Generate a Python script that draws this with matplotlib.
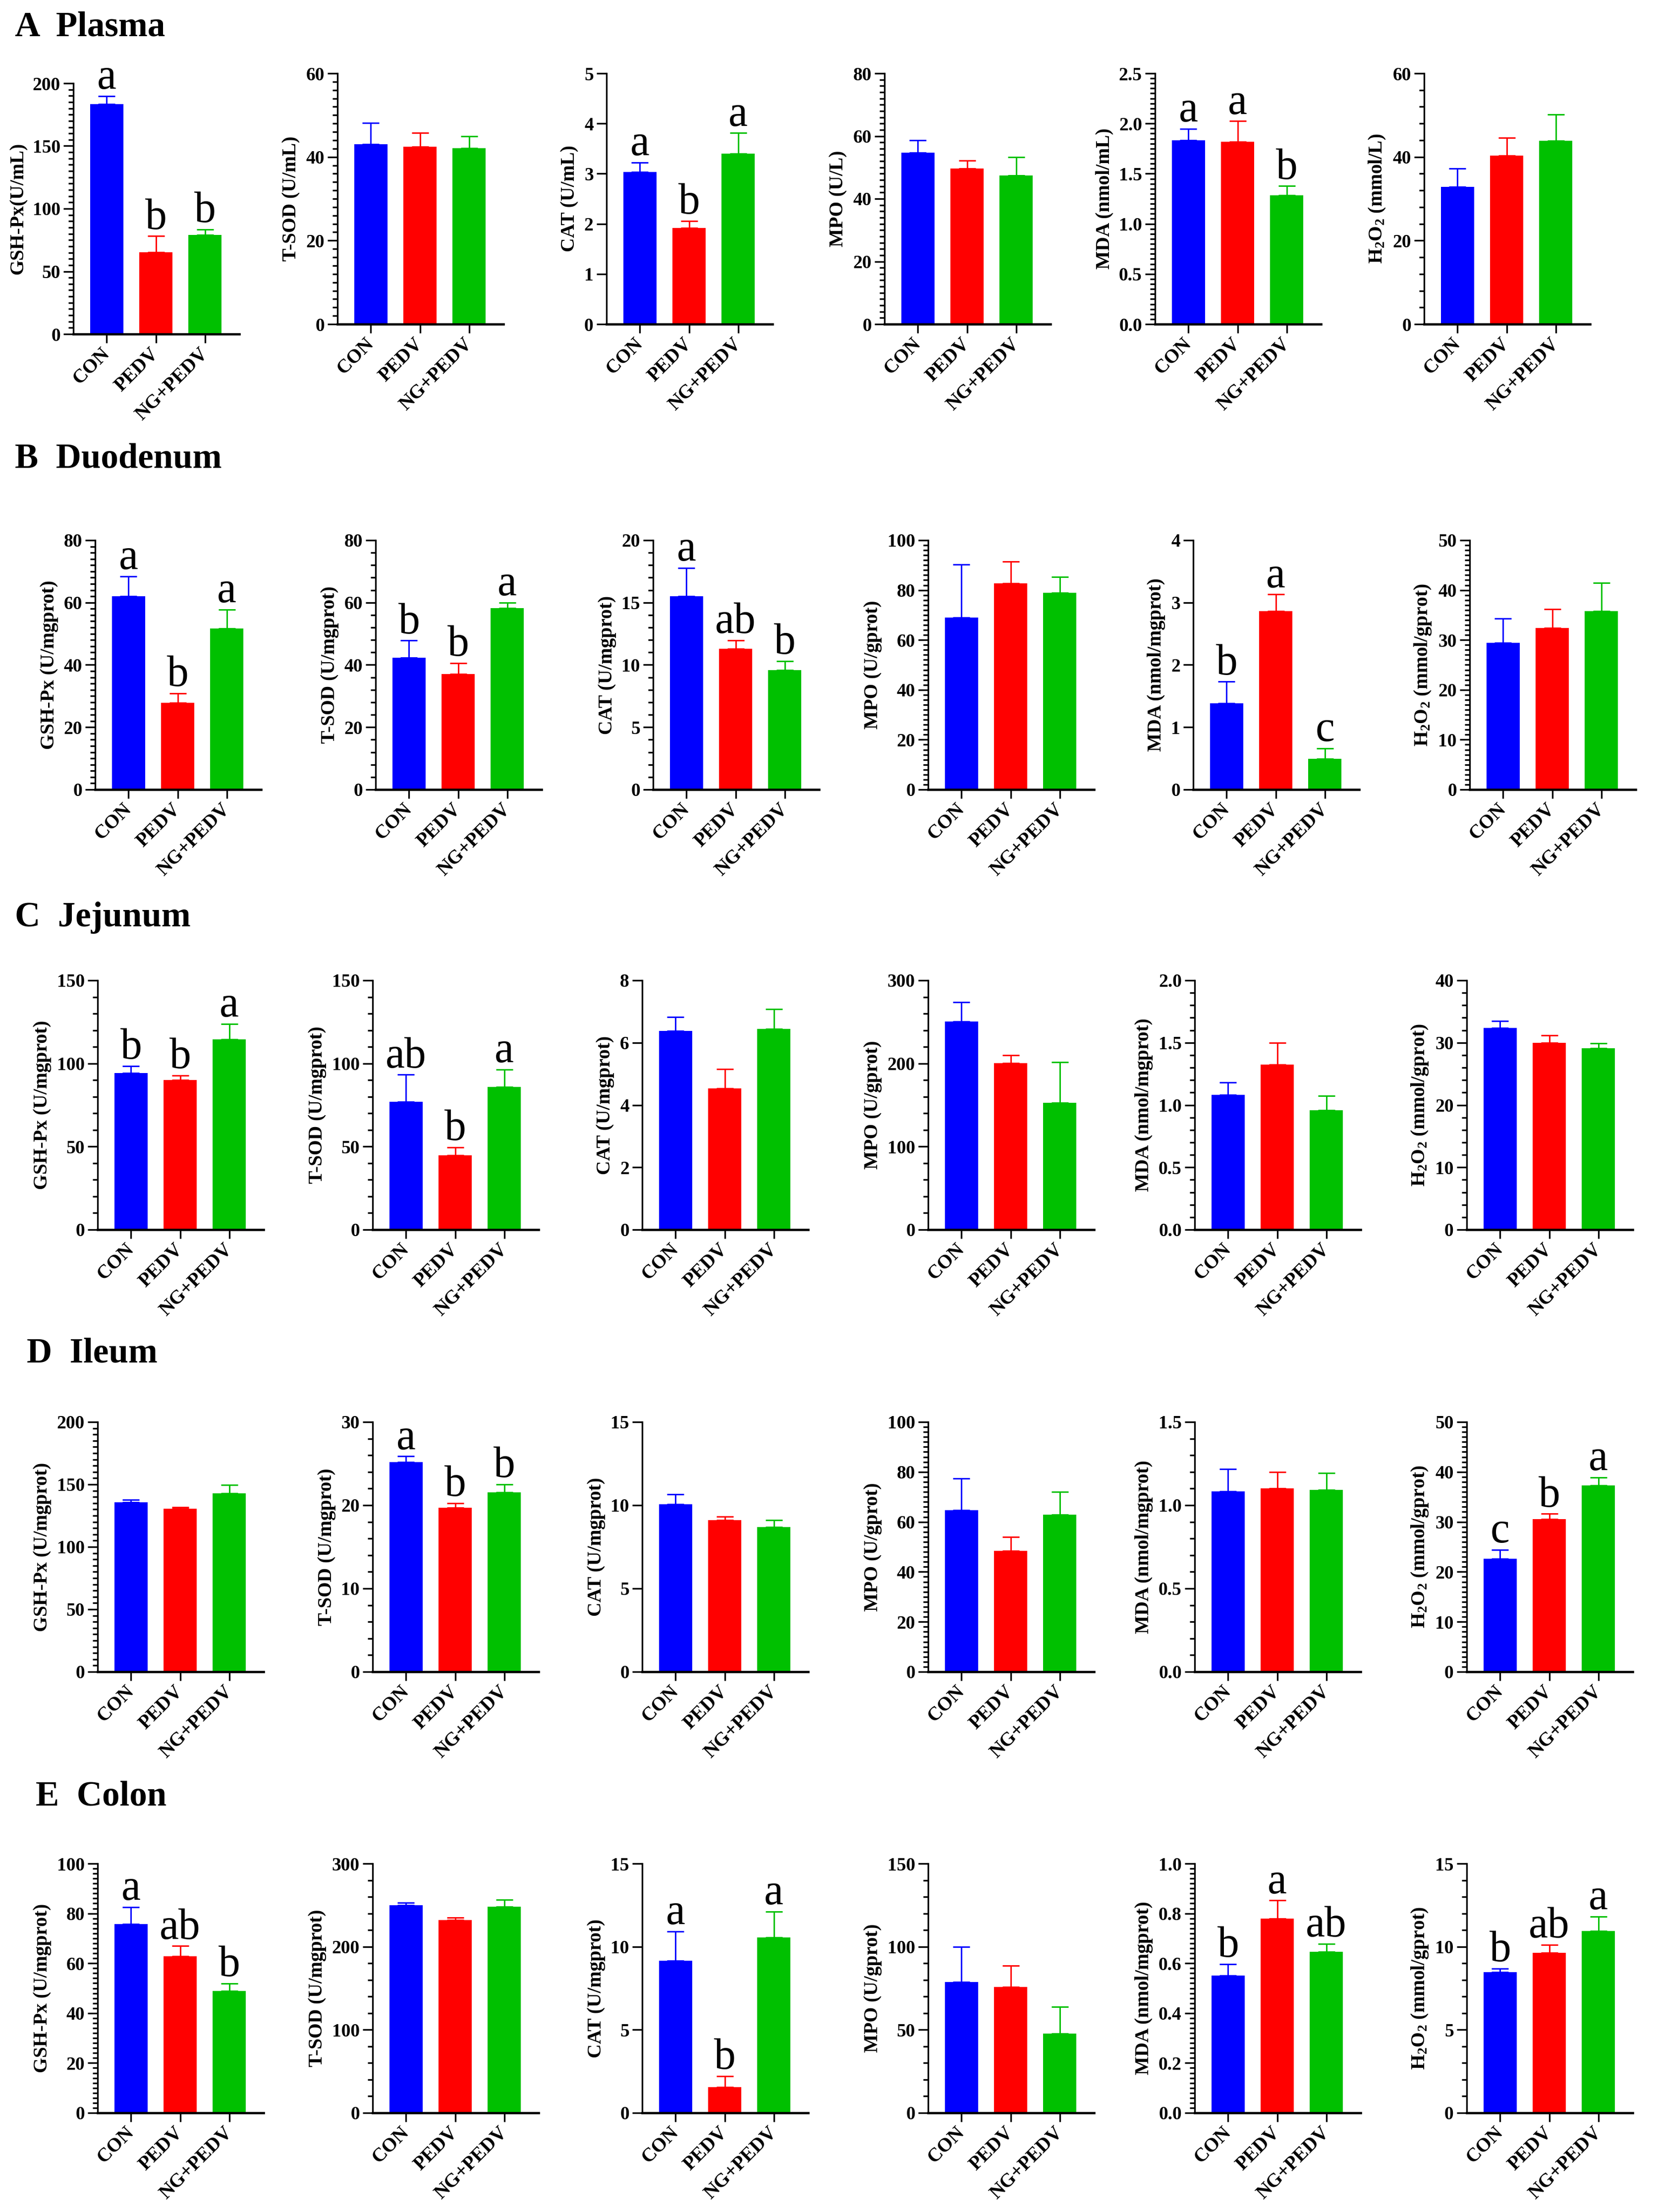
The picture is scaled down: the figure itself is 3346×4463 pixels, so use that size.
import numpy as np
import matplotlib
matplotlib.use("Agg")
import matplotlib.pyplot as plt
from matplotlib.ticker import MultipleLocator, FormatStrFormatter

plt.rcParams["font.family"] = ["Liberation Serif", "DejaVu Serif"]
plt.rcParams["mathtext.default"] = "regular"

GROUPS = ["CON", "PEDV", "NG+PEDV"]
COLORS = ["#0000FF", "#FF0000", "#00C000"]

TISSUES = ["A  Plasma", "B  Duodenum", "C  Jejunum", "D  Ileum", "E  Colon"]

PLASMA_LABELS = ["GSH-Px(U/mL)", "T-SOD (U/mL)", "CAT (U/mL)", "MPO (U/L)",
                 "MDA (nmol/mL)", "H$_2$O$_2$ (mmol/L)"]
TISSUE_LABELS = ["GSH-Px (U/mgprot)", "T-SOD (U/mgprot)", "CAT (U/mgprot)", "MPO (U/gprot)",
                 "MDA (nmol/mgprot)", "H$_2$O$_2$ (mmol/gprot)"]

# means / upper error, one row per enzyme: GSH-Px, T-SOD, CAT, MPO, MDA, H2O2
PLASMA_MEAN = [[183.4, 65.3, 79.2], [43.1, 42.5, 42.1], [3.03, 1.92, 3.40],
               [54.7, 49.6, 47.5], [1.834, 1.818, 1.283], [32.9, 40.3, 43.9]]
PLASMA_ERR = [[6.2, 12.8, 4.1], [5.0, 3.3, 2.8], [0.19, 0.14, 0.41],
              [3.9, 2.5, 5.8], [0.115, 0.206, 0.093], [4.3, 4.3, 6.3]]
PLASMA_SIG = [["a", "b", "b"], None, ["a", "b", "a"], None, ["a", "a", "b"], None]

DUODENUM_MEAN = [[62.0, 27.9, 51.7], [42.3, 37.1, 58.2], [15.49, 11.29, 9.58],
                 [69.0, 82.8, 79.0], [1.38, 2.86, 0.49], [29.4, 32.4, 35.8]]
DUODENUM_ERR = [[6.4, 3.0, 6.0], [5.5, 3.5, 1.8], [2.3, 0.69, 0.73],
                [21.2, 8.6, 6.2], [0.35, 0.27, 0.17], [4.9, 3.8, 5.7]]
DUODENUM_SIG = [["a", "b", "a"], ["b", "b", "a"], ["a", "ab", "b"], None, ["b", "a", "c"], None]

JEJUNUM_MEAN = [[94.3, 90.1, 114.5], [77.0, 44.6, 85.9], [6.38, 4.54, 6.44],
                [250.6, 200.1, 152.7], [1.083, 1.323, 0.960], [32.4, 30.0, 29.1]]
JEJUNUM_ERR = [[4.2, 2.6, 9.4], [16.2, 5.0, 10.5], [0.45, 0.61, 0.64],
               [22.9, 9.8, 48.8], [0.099, 0.177, 0.114], [1.1, 1.2, 0.8]]
JEJUNUM_SIG = [["b", "b", "a"], ["ab", "b", "a"], None, None, None, None]

ILEUM_MEAN = [[135.9, 130.5, 142.8], [25.16, 19.71, 21.53], [10.06, 9.10, 8.69],
              [64.7, 48.4, 62.8], [1.083, 1.101, 1.093], [22.6, 30.6, 37.3]]
ILEUM_ERR = [[1.8, 1.1, 6.9], [0.71, 0.54, 0.97], [0.60, 0.23, 0.42],
             [12.6, 5.5, 9.3], [0.134, 0.099, 0.100], [1.8, 1.0, 1.6]]
ILEUM_SIG = [None, ["a", "b", "b"], None, None, None, ["c", "b", "a"]]

COLON_MEAN = [[75.7, 62.9, 48.9], [249.7, 232.2, 248.1], [9.16, 1.55, 10.55],
              [78.8, 75.8, 47.6], [0.550, 0.780, 0.646], [8.46, 9.62, 10.94]]
COLON_ERR = [[6.8, 4.0, 3.0], [3.4, 2.7, 8.1], [1.76, 0.66, 1.55],
             [21.1, 12.9, 16.2], [0.046, 0.072, 0.032], [0.22, 0.48, 0.88]]
COLON_SIG = [["a", "ab", "b"], None, ["a", "b", "a"], None, ["b", "a", "ab"], ["b", "ab", "a"]]

# y-axis top, major step, minor step
PLASMA_Y = [(200, 50, 5), (60, 20, 2), (5, 1, None), (80, 20, 2), (2.5, 0.5, 0.05), (60, 20, 4)]
DUODENUM_Y = [(80, 20, 2), (80, 20, 4), (20, 5, 1), (100, 20, 2), (4, 1, None), (50, 10, 1)]
JEJUNUM_Y = [(150, 50, 10), (150, 50, 10), (8, 2, None), (300, 100, 20), (2.0, 0.5, 0.1), (40, 10, 2)]
ILEUM_Y = [(200, 50, 5), (30, 10, 2), (15, 5, None), (100, 20, 2), (1.5, 0.5, 0.1), (50, 10, 1)]
COLON_Y = [(100, 20, 2), (300, 100, 20), (15, 5, None), (150, 50, 10), (1.0, 0.2, 0.02), (15, 5, 1)]

W, H = 3346, 4463
ROW_TOP = [148, 1090, 1978, 2869, 3760]
ROW_BOTTOM = [654, 1593, 2481, 3373, 4263]
COL_X = [
    [148, 681, 1224, 1785, 2331, 2874],
    [192, 758, 1318, 1873, 2408, 2966],
    [197, 752, 1296, 1873, 2411, 2960],
    [197, 752, 1296, 1873, 2411, 2960],
    [197, 752, 1296, 1873, 2411, 2960],
]
AX_W = 335
TITLE_POS = [(30, 55), (30, 926), (30, 1851), (54, 2731), (72, 3625)]


def draw_panel(ax, means, errs, sig, ylabel, yspec):
    ymax, major, minor = yspec
    x = np.arange(len(GROUPS))
    ax.bar(x, means, width=0.67, color=COLORS, zorder=2)
    for i in range(len(GROUPS)):
        ax.errorbar(x[i], means[i], yerr=[[0], [errs[i]]], fmt="none", ecolor=COLORS[i],
                    elinewidth=0.7, capsize=4, capthick=0.7, zorder=3)
        if sig:
            ax.annotate(sig[i], (x[i], means[i] + errs[i]), xytext=(0, -1), textcoords="offset points",
                        ha="center", va="bottom", fontsize=21)
    ax.set_xlim(-0.68, 2.7)
    ax.set_ylim(0, ymax)
    ax.yaxis.set_major_locator(MultipleLocator(major))
    if minor:
        ax.yaxis.set_minor_locator(MultipleLocator(minor))
    if major < 1:
        ax.yaxis.set_major_formatter(FormatStrFormatter("%.1f"))
    else:
        ax.yaxis.set_major_formatter(FormatStrFormatter("%d"))
    ax.spines[["top", "right"]].set_visible(False)
    ax.spines["left"].set_linewidth(0.8)
    ax.spines["bottom"].set_linewidth(1.1)
    ax.tick_params(axis="y", which="major", length=4.8, width=0.8, pad=1.5, labelsize=9)
    ax.tick_params(axis="y", which="minor", length=2.4, width=0.8)
    ax.tick_params(axis="x", length=4.3, width=0.8, pad=4)
    for lab in ax.get_yticklabels():
        lab.set_fontweight("bold")
    ax.set_xticks(x)
    ax.set_xticklabels(GROUPS, rotation=45, ha="right", va="center", rotation_mode="anchor",
                       fontsize=9.5, fontweight="bold")
    ax.set_ylabel(ylabel, fontsize=9.5, fontweight="bold", labelpad=2.5)


def main():
    fig = plt.figure(figsize=(W / 300, H / 300), dpi=300)
    means = [PLASMA_MEAN, DUODENUM_MEAN, JEJUNUM_MEAN, ILEUM_MEAN, COLON_MEAN]
    errs = [PLASMA_ERR, DUODENUM_ERR, JEJUNUM_ERR, ILEUM_ERR, COLON_ERR]
    sigs = [PLASMA_SIG, DUODENUM_SIG, JEJUNUM_SIG, ILEUM_SIG, COLON_SIG]
    yspecs = [PLASMA_Y, DUODENUM_Y, JEJUNUM_Y, ILEUM_Y, COLON_Y]
    for r in range(5):
        labels = PLASMA_LABELS if r == 0 else TISSUE_LABELS
        tx, ty = TITLE_POS[r]
        fig.text(tx / W, 1 - ty / H, TISSUES[r], fontsize=17, fontweight="bold", ha="left", va="center")
        for c in range(6):
            top, bottom = ROW_TOP[r], ROW_BOTTOM[r]
            if r == 0 and c == 0:
                top, bottom = top + 20, bottom + 20
            ax = fig.add_axes([COL_X[r][c] / W, 1 - bottom / H, AX_W / W, (bottom - top) / H])
            draw_panel(ax, means[r][c], errs[r][c], sigs[r][c], labels[c], yspecs[r][c])
    fig.savefig("out.png", dpi=300)
    plt.close(fig)


if __name__ == "__main__":
    main()
